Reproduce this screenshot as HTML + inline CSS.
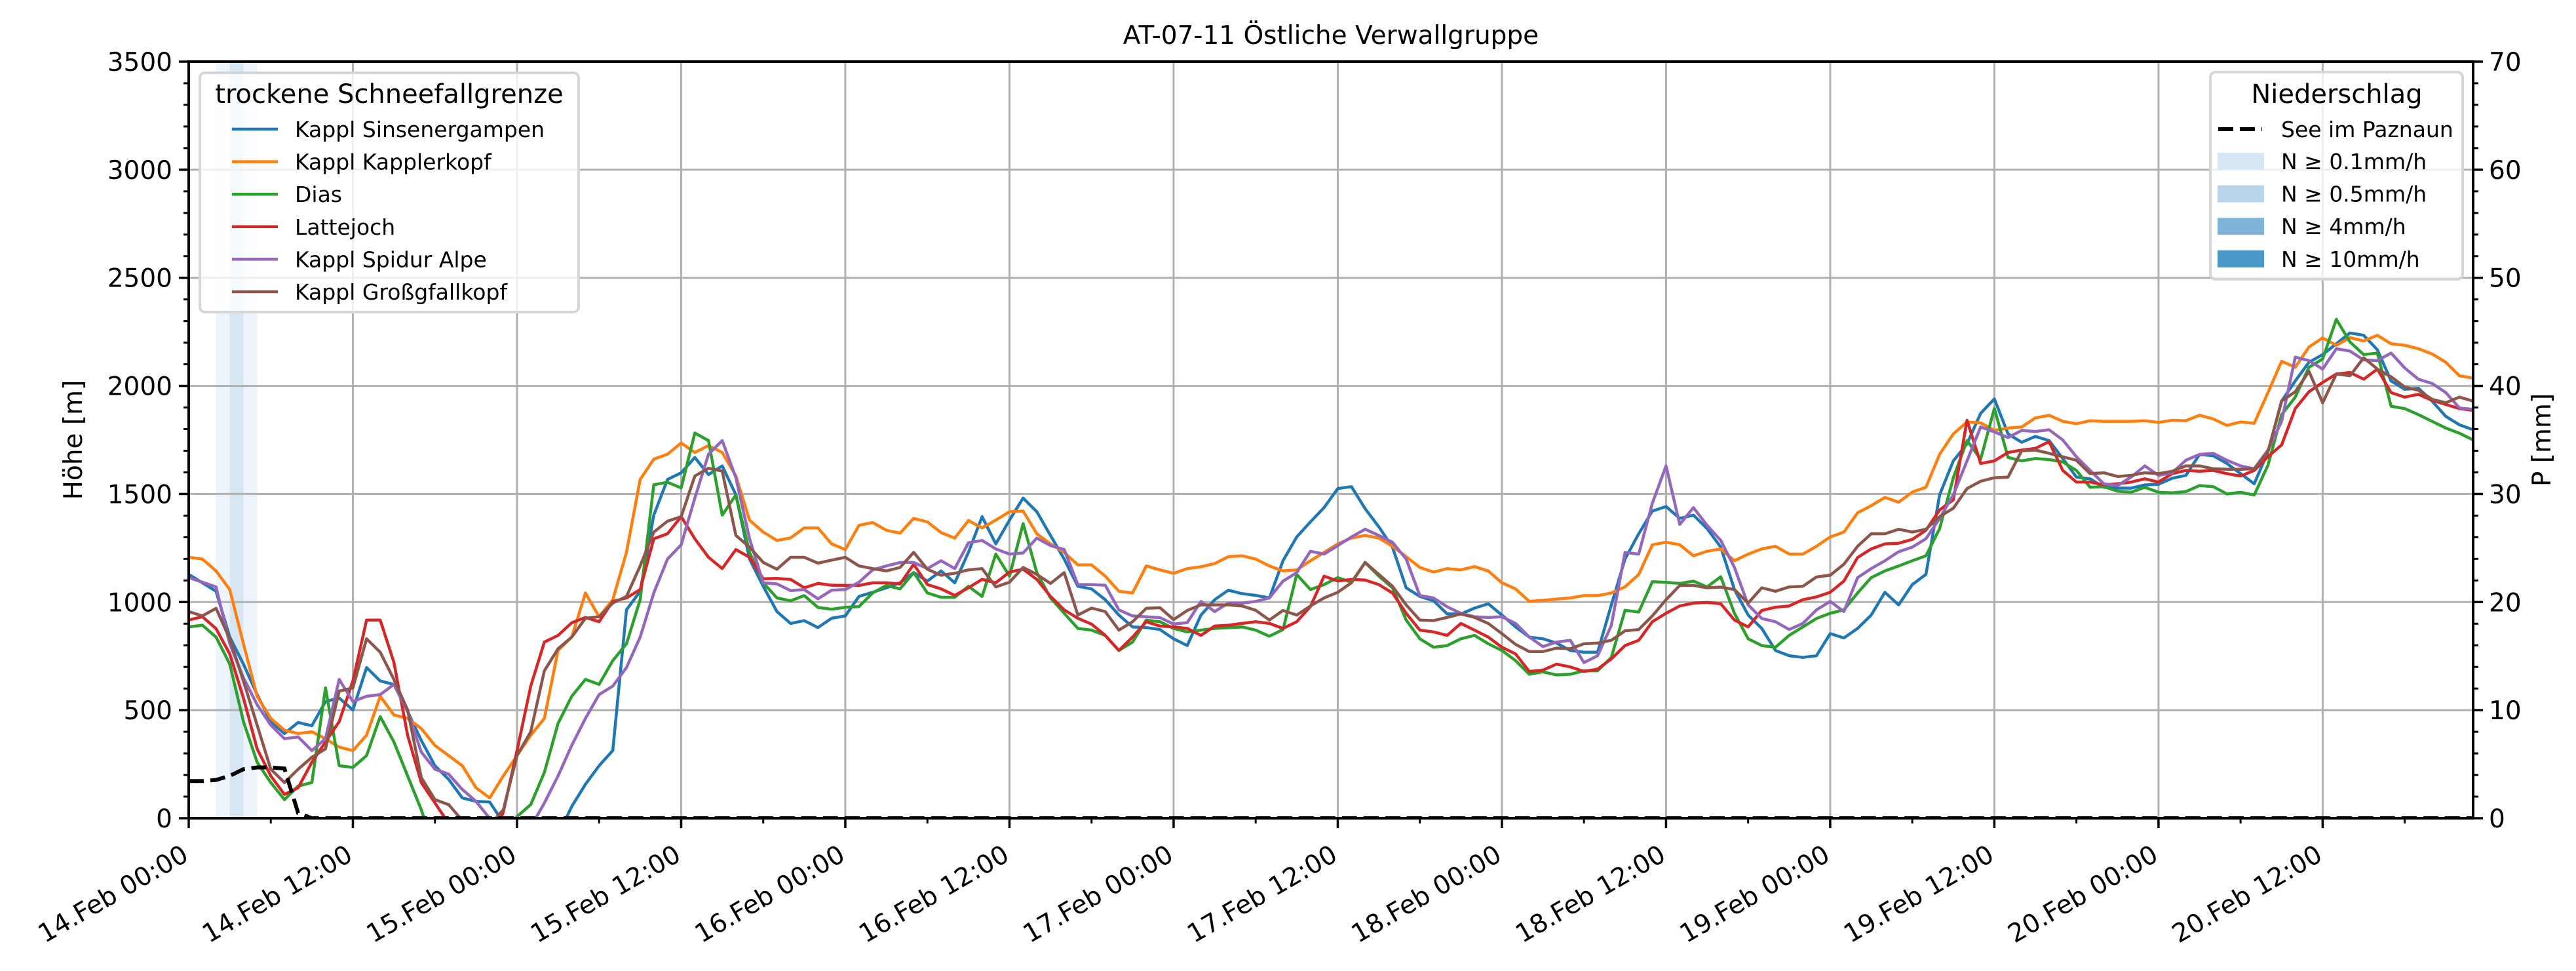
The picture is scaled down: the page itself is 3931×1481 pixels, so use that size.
<!DOCTYPE html>
<html><head><meta charset="utf-8">
<style>
html,body{margin:0;padding:0;background:#fff;}
svg{display:block;font-family:"DejaVu Sans","Liberation Sans",sans-serif;}
</style></head>
<body>
<svg id="chart" xmlns="http://www.w3.org/2000/svg" width="3931" height="1481" viewBox="0 0 3931 1481">
<defs><clipPath id="plotclip"><rect x="288" y="94" width="3486" height="1154"/></clipPath></defs>
<rect x="0" y="0" width="3931" height="1481" fill="#fff"/>
<text x="2031" y="67" font-size="39" text-anchor="middle">AT-07-11 Östliche Verwallgruppe</text>
<g id="bands" clip-path="url(#plotclip)"></g>
<g id="grid"></g>
<g id="series" clip-path="url(#plotclip)"></g>
<g id="axes"></g>
<g id="legends"></g>
</svg>
<script>
// ---- data ----
const categoriesDays = ["14.Feb","15.Feb","16.Feb","17.Feb","18.Feb","19.Feb","20.Feb"];
const xTickLabels = ["14.Feb 00:00","14.Feb 12:00","15.Feb 00:00","15.Feb 12:00","16.Feb 00:00","16.Feb 12:00","17.Feb 00:00","17.Feb 12:00","18.Feb 00:00","18.Feb 12:00","19.Feb 00:00","19.Feb 12:00","20.Feb 00:00","20.Feb 12:00"];
const xTickHours = [0,12,24,36,48,60,72,84,96,108,120,132,144,156];
const yTicksLeft = [0,500,1000,1500,2000,2500,3000,3500];
const yTicksRight = [0,10,20,30,40,50,60,70];
const seriesNames = ["Kappl Sinsenergampen","Kappl Kapplerkopf","Dias","Lattejoch","Kappl Spidur Alpe","Kappl Großgfallkopf"];
const seriesColors = ["#1f77b4","#ff7f0e","#2ca02c","#d62728","#9467bd","#8c564b"];
const precipStart = [2,3,4];
const precipEnd = [3,4,5];
const precipLevel = [0,1,0];
const sinsenergampen = [1128,1089,1050,838,713,572,447,392,443,428,540,556,501,697,635,619,494,360,243,180,94,78,75,-20,-150,-200,-200,-80,55,157,243,313,964,1050,
1402,1567,1598,1669,1590,1630,1496,1199,1073,956,901,914,882,925,936,1026,1045,1066,1089,1136,1097,1144,1089,1230,1395,1269,1379,1481,1418,1308,1199,1073,1061,1011,
940,885,882,873,830,799,940,1011,1055,1039,1031,1019,1191,1301,1371,1437,1525,1534,1432,1348,1254,1066,1026,1006,945,945,972,992,940,885,838,830,810,
776,768,768,987,1199,1316,1421,1442,1387,1402,1340,1254,1058,940,878,776,752,744,752,854,834,878,940,1045,987,1081,1128,1496,1653,1732,1873,1940,1778,1739,
1766,1747,1664,1578,1570,1531,1527,1527,1542,1545,1573,1586,1683,1677,1641,1594,1547,1695,1930,2023,2109,2145,2195,2245,2234,2167,2023,1984,1989,1930,1859,1820,1797];
const kapplerkopf = [1207,1199,1144,1058,807,564,462,407,392,400,368,329,313,384,564,478,462,415,337,290,243,141,94,196,290,384,462,776,838,1042,932,1011,1230,1567,
1661,1684,1736,1692,1724,1692,1583,1379,1324,1285,1297,1343,1343,1269,1243,1355,1368,1332,1319,1387,1371,1321,1296,1377,1343,1379,1418,1421,1316,1269,1230,1172,1172,1120,
1050,1042,1167,1149,1133,1155,1163,1178,1210,1214,1199,1167,1144,1149,1191,1230,1269,1296,1308,1296,1258,1210,1160,1139,1155,1149,1164,1144,1089,1061,1003,1008,1014,
1019,1030,1030,1042,1070,1128,1265,1277,1265,1214,1235,1246,1191,1222,1246,1258,1222,1222,1258,1301,1324,1413,1446,1484,1462,1509,1531,1684,1778,1833,1829,1794,1805,1810,
1852,1864,1836,1825,1839,1836,1836,1836,1839,1831,1841,1839,1864,1847,1817,1833,1827,1969,2114,2086,2180,2222,2188,2223,2208,2234,2195,2188,2172,2148,2109,2047,2036];
const dias = [885,893,838,713,447,259,165,86,149,165,603,243,235,290,470,353,196,39,-150,-250,-300,-250,-150,-50,8,63,212,439,564,642,619,729,807,1011,
1543,1554,1528,1782,1747,1402,1496,1230,1089,1019,1006,1030,975,967,976,979,1042,1077,1061,1136,1042,1022,1022,1073,1026,1222,1120,1363,1136,1019,948,878,870,846,
776,815,917,909,878,862,870,878,881,885,870,842,873,1128,1058,1081,1113,1092,1183,1120,1066,917,830,791,799,830,846,807,776,729,666,677,663,
666,682,682,744,962,954,1094,1091,1086,1097,1070,1117,948,830,799,791,846,885,924,948,964,1042,1113,1144,1167,1191,1214,1340,1575,1747,1661,1896,1669,1653,
1664,1659,1648,1609,1531,1534,1513,1508,1531,1508,1505,1511,1539,1534,1500,1508,1495,1633,1867,1948,2086,2125,2308,2203,2145,2152,1906,1895,1867,1836,1805,1781,1750];
const lattejoch = [917,932,877,760,556,321,196,110,141,259,353,447,635,917,917,721,384,165,71,-24,-150,-200,-150,30,313,611,815,846,904,929,909,1003,1019,1058,
1293,1316,1395,1293,1207,1155,1243,1207,1108,1109,1105,1066,1086,1078,1077,1077,1089,1089,1084,1175,1081,1061,1031,1066,1105,1089,1139,1152,1105,1026,964,925,898,846,
776,838,909,889,885,878,846,889,893,901,909,901,878,909,979,1120,1097,1105,1102,1081,1042,948,870,862,846,901,870,838,791,760,679,685,713,
700,679,690,737,799,823,909,948,982,995,998,992,917,885,961,976,982,1011,1024,1045,1097,1206,1246,1269,1272,1290,1332,1426,1473,1841,1641,1653,1692,1703,
1711,1742,1609,1555,1555,1542,1547,1555,1570,1555,1594,1609,1605,1609,1594,1583,1609,1672,1727,1895,1973,2016,2055,2062,2031,2078,1969,1948,1961,1933,1914,1895,1886];
const spidurAlpe = [1113,1092,1070,807,650,525,431,368,376,313,368,642,540,564,572,619,494,306,227,204,133,78,0,-100,-200,-40,70,196,337,462,572,611,697,838,
1042,1199,1265,1481,1684,1747,1575,1293,1089,1084,1053,1058,1015,1055,1058,1092,1149,1167,1183,1183,1155,1191,1155,1274,1285,1246,1222,1227,1296,1261,1243,1081,1081,1078,
964,936,932,928,898,905,1003,956,995,995,1003,1019,1097,1136,1235,1222,1261,1301,1337,1308,1277,1199,1030,1019,978,948,932,929,932,901,838,794,815,
823,720,752,892,1230,1222,1457,1630,1359,1437,1355,1285,1160,987,924,909,873,901,964,1003,956,1113,1155,1191,1233,1254,1293,1387,1496,1653,1810,1787,1761,1794,
1789,1797,1750,1672,1609,1547,1539,1578,1630,1586,1598,1656,1683,1688,1656,1630,1617,1703,1836,2133,2117,2078,2172,2161,2120,2117,2152,2083,2031,2011,1969,1898,1891];
const grossgfallkopf = [956,936,971,830,635,431,227,165,227,282,321,588,603,830,768,642,501,188,86,63,-10,-100,-30,39,290,400,682,784,838,925,932,995,1026,1167,
1324,1374,1395,1583,1619,1606,1308,1254,1183,1152,1207,1207,1180,1194,1207,1167,1155,1144,1160,1230,1152,1124,1133,1149,1155,1070,1092,1160,1128,1086,1136,940,972,956,
870,909,971,974,919,961,987,987,987,982,962,917,961,940,982,1019,1045,1089,1183,1128,1073,987,917,914,929,945,929,901,854,804,771,771,787,
784,807,810,823,867,873,936,1011,1077,1077,1066,1069,1058,995,1066,1050,1070,1073,1116,1124,1175,1258,1316,1316,1337,1324,1337,1395,1434,1525,1559,1575,1578,1700,
1703,1688,1672,1656,1594,1598,1581,1586,1598,1594,1605,1630,1630,1617,1614,1614,1617,1695,1930,1973,2067,1922,2055,2047,2130,2078,2042,1995,1980,1938,1922,1948,1930];
const seePaznaun = [172,172,177,196,227,235,235,230,24,0,0,0,0,0,0,0,0,0,0,0,
0,0,0,0,0,0,0,0,0,0,0,0,0,0,0,0,0,0,0,0,
0,0,0,0,0,0,0,0,0,0,0,0,0,0,0,0,0,0,0,0,
0,0,0,0,0,0,0,0,0,0,0,0,0,0,0,0,0,0,0,0,
0,0,0,0,0,0,0,0,0,0,0,0,0,0,0,0,0,0,0,0,
0,0,0,0,0,0,0,0,0,0,0,0,0,0,0,0,0,0,0,0,
0,0,0,0,0,0,0,0,0,0,0,0,0,0,0,0,0,0,0,0,
0,0,0,0,0,0,0,0,0,0,0,0,0,0,0,0,0,0,0,0,
0,0,0,0,0,0,0,0];
const allSeries = [sinsenergampen,kapplerkopf,dias,lattejoch,spidurAlpe,grossgfallkopf];

// ---- geometry ----
const NS = "http://www.w3.org/2000/svg";
const X0 = 288, X1 = 3774, Y0 = 1248, Y1 = 94, HMAX = 167;
function xs(h){ return X0 + h*(X1-X0)/HMAX; }
function ys(v){ return Y0 - v*(Y0-Y1)/3500; }
function yr(p){ return Y0 - p*(Y0-Y1)/70; }
function mk(tag, attrs, parent){ const e=document.createElementNS(NS,tag); for(const k in attrs) e.setAttribute(k,attrs[k]); parent.appendChild(e); return e; }
const gBands=document.getElementById('bands'), gGrid=document.getElementById('grid'), gSeries=document.getElementById('series'), gAxes=document.getElementById('axes'), gLeg=document.getElementById('legends');

// precip bands
const bandColors=["#edf4fb","#d7e6f3","#b8d4ea","#7fb5d7"];
for(let i=0;i<precipStart.length;i++){
  const r=mk('rect',{x:xs(precipStart[i]),y:Y1,width:xs(precipEnd[i])-xs(precipStart[i]),height:Y0-Y1,fill:bandColors[precipLevel[i]]},gBands);
  
  
}
// grid
xTickHours.forEach(h=>{ const l=mk('line',{x1:xs(h),x2:xs(h),y1:Y1,y2:Y0,stroke:'#b0b0b0','stroke-width':3},gGrid);
  
   });
yTicksLeft.forEach(v=>{ const l=mk('line',{x1:X0,x2:X1,y1:ys(v),y2:ys(v),stroke:'#b0b0b0','stroke-width':3},gGrid);
  
   });

// series
function pathFor(arr){ return arr.map((v,i)=>(i?'L':'M')+xs(i).toFixed(1)+','+ys(v).toFixed(1)).join(''); }
allSeries.forEach((arr,i)=>{
  const p=mk('path',{d:pathFor(arr),fill:'none',stroke:seriesColors[i],'stroke-width':4.5,'stroke-linejoin':'round'},gSeries);
  
  
});
const pz=mk('path',{d:pathFor(seePaznaun),fill:'none',stroke:'#000','stroke-width':6,'stroke-dasharray':'23,10'},gSeries);



// axes frame
const fr=mk('rect',{x:X0,y:Y1,width:X1-X0,height:Y0-Y1,fill:'none',stroke:'#000','stroke-width':4},gAxes);


// left ticks
for(let v=0;v<=3500;v+=100){ const major=v%500===0; mk('line',{x1:X0,x2:X0-(major?15:8),y1:ys(v),y2:ys(v),stroke:'#000','stroke-width':major?3.5:3},gAxes); }
yTicksLeft.forEach(v=>{ const t=mk('text',{x:X0-25,y:ys(v)+14,'font-size':39,'text-anchor':'end'},gAxes); t.textContent=v;
  
   });
// right ticks
for(let p=0;p<=70;p+=2){ const major=p%10===0; mk('line',{x1:X1,x2:X1+(major?15:8),y1:yr(p),y2:yr(p),stroke:'#000','stroke-width':major?3.5:3},gAxes); }
yTicksRight.forEach(p=>{ const t=mk('text',{x:X1+24,y:yr(p)+14,'font-size':39,'text-anchor':'start'},gAxes); t.textContent=p;
  
   });
// x ticks
for(let h=0;h<=HMAX;h+=6){ const major=h%12===0; mk('line',{x1:xs(h),x2:xs(h),y1:Y0,y2:Y0+(major?15:8),stroke:'#000','stroke-width':major?3.5:3},gAxes); }
xTickHours.forEach((h,i)=>{ const x=xs(h)+2, y=1311;
  const t=mk('text',{x:x,y:y,'font-size':39,'text-anchor':'end',transform:'rotate(-30 '+x+' '+y+')'},gAxes); t.textContent=xTickLabels[i];
  
   });
// axis titles
const yl=mk('text',{x:125,y:671,'font-size':39,'text-anchor':'middle',transform:'rotate(-90 125 671)'},gAxes); yl.textContent='Höhe [m]';


const yr2=mk('text',{x:3892,y:671,'font-size':39,'text-anchor':'middle',transform:'rotate(-90 3892 671)'},gAxes); yr2.textContent='P [mm]';



// left legend
const lb=mk('rect',{x:305,y:111,width:578,height:365,rx:8,fill:'#fff','fill-opacity':0.8,stroke:'#d6d6d6','stroke-width':4},gLeg);


const lt=mk('text',{x:594,y:157,'font-size':40,'text-anchor':'middle'},gLeg); lt.textContent='trockene Schneefallgrenze';


seriesNames.forEach((n,i)=>{ const y=197+i*49.6;
  const l=mk('line',{x1:354,x2:424,y1:y,y2:y,stroke:seriesColors[i],'stroke-width':4.5},gLeg);
  
  
  const t=mk('text',{x:450,y:y+12,'font-size':33},gLeg); t.textContent=n;
  
   });

// right legend
const rb=mk('rect',{x:3373,y:110,width:385,height:316,rx:8,fill:'#fff','fill-opacity':0.8,stroke:'#d6d6d6','stroke-width':4},gLeg);


const rt=mk('text',{x:3566,y:157,'font-size':40,'text-anchor':'middle'},gLeg); rt.textContent='Niederschlag';


const dl=mk('line',{x1:3385,x2:3452,y1:197,y2:197,stroke:'#000','stroke-width':6,'stroke-dasharray':'23,10'},gLeg);


const dt=mk('text',{x:3481,y:209,'font-size':33},gLeg); dt.textContent='See im Paznaun';


const pLabels=["N ≥ 0.1mm/h","N ≥ 0.5mm/h","N ≥ 4mm/h","N ≥ 10mm/h"];
const pCols=["#d6e6f4","#b8d4ea","#7fb5d7","#4a97c9"];
pLabels.forEach((s,i)=>{ const y=246+i*49.6;
  const r=mk('rect',{x:3384,y:y-13,width:71,height:26,fill:pCols[i]},gLeg);
  
  
  const t=mk('text',{x:3481,y:y+12,'font-size':33},gLeg); t.textContent=s;
  
   });
</script>
</body></html>
